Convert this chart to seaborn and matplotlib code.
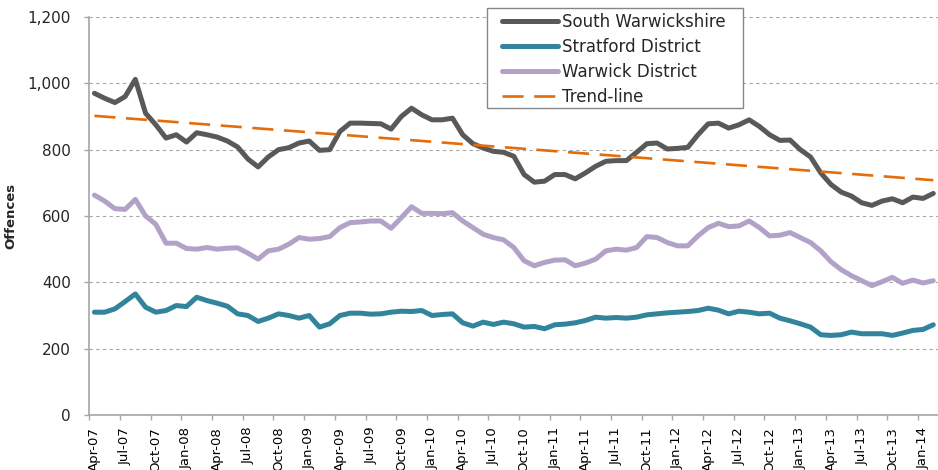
import matplotlib
matplotlib.use('Agg')
import matplotlib.pyplot as plt
import numpy as np
import pandas as pd
import seaborn as sns
from matplotlib.lines import Line2D
from matplotlib.patches import Rectangle
from matplotlib.ticker import FuncFormatter

# Monthly offences, Apr-07 .. Feb-14
months = pd.date_range('2007-04-01', '2014-02-01', freq='MS').strftime('%b-%y').tolist()

south_warwickshire = [970, 955, 942, 960, 1012, 910, 875, 835, 845, 823,
                      851, 845, 838, 826, 808, 772, 748, 778, 800, 806,
                      820, 826, 798, 800, 855, 880, 880, 879, 878, 862,
                      900, 925, 905, 890, 890, 895, 845, 818, 805, 795,
                      792, 780, 725, 702, 705, 725, 725, 712, 730, 750,
                      765, 767, 767, 792, 818, 820, 802, 804, 807, 845,
                      878, 880, 865, 875, 890, 870, 845, 828, 829, 800,
                      778, 730, 695, 672, 660, 640, 632, 645, 652, 640,
                      657, 653, 668]
stratford = [310, 310, 320, 342, 365, 325, 310, 315, 330, 327,
             355, 345, 337, 328, 305, 300, 282, 292, 305, 300,
             292, 300, 265, 275, 300, 307, 307, 304, 305, 310,
             313, 312, 315, 300, 303, 305, 278, 268, 280, 273,
             280, 275, 265, 267, 260, 272, 274, 278, 285, 295,
             292, 294, 292, 295, 302, 305, 308, 310, 312, 315,
             322, 316, 305, 313, 310, 305, 307, 292, 284, 275,
             265, 242, 240, 242, 250, 245, 245, 245, 240, 247,
             255, 258, 272]
warwick = [663, 645, 622, 620, 650, 600, 575, 518, 518, 502,
           500, 505, 500, 503, 504, 488, 470, 495, 500, 515,
           535, 530, 532, 538, 565, 580, 582, 585, 585, 563,
           595, 628, 608, 608, 607, 610, 585, 565, 545, 535,
           528, 505, 465, 450, 460, 467, 468, 450, 458, 470,
           495, 500, 497, 505, 538, 535, 520, 510, 510, 540,
           565, 578, 568, 570, 585, 565, 540, 542, 550, 535,
           520, 495, 462, 438, 420, 405, 390, 402, 415, 397,
           407, 398, 405]

trend_months = ['Apr-07', 'Feb-14']
trend_values = [902, 708]

series_names = ['South Warwickshire', 'Stratford District', 'Warwick District']
colours = ['#595959', '#31849B', '#B3A2C7']
trend_colour = '#E46C0A'


def yaxis_formatter(x, _):
    return '{:,.0f}'.format(x)


sns.set_style('white')
plt.rcParams['font.family'] = ['DejaVu Sans']

df = pd.DataFrame({'Month': months,
                   'South Warwickshire': south_warwickshire,
                   'Stratford District': stratford,
                   'Warwick District': warwick})
df['idx'] = range(len(df))
long = df.melt(id_vars=['Month', 'idx'], var_name='Series', value_name='Offences')

fig = plt.figure(figsize=(9.38, 4.70), dpi=100)
ax = fig.add_axes([89.3 / 938, 1 - 415 / 470, (938.4 - 89.3) / 938, 398 / 470])

sns.lineplot(data=long, x='idx', y='Offences', hue='Series', hue_order=series_names,
             palette=colours, linewidth=3.6, legend=False, ax=ax,
             solid_capstyle='round', solid_joinstyle='round')

trend_x = [months.index(m) for m in trend_months]
ax.plot(trend_x, trend_values, color=trend_colour, linewidth=1.9, dashes=(8, 4))

# Axes
ax.set_xlim(-0.5, len(months) - 0.5)
ax.set_ylim(0, 1200)
ax.set_yticks(range(0, 1201, 200))
ax.yaxis.set_major_formatter(FuncFormatter(yaxis_formatter))
ax.set_xticks(range(0, len(months), 3))
ax.set_xticklabels(months[::3], rotation=90)
ax.set_xticks(np.arange(-0.5, len(months), 3), minor=True)
ax.tick_params(axis='x', which='major', length=0, pad=8.5, labelsize=9.5, colors='black')
ax.tick_params(axis='x', which='minor', length=3.6, width=1, color='#A6A6A6', direction='out', bottom=True)
ax.tick_params(axis='y', length=3.6, width=1, color='#A6A6A6', direction='out', left=True,
               pad=9.5, labelsize=11, labelcolor='#262626')
ax.set_xlabel('')
ax.set_ylabel('Offences', fontsize=9.5, fontweight='bold')
ax.yaxis.set_label_coords(-0.085, 0.5)

for side in ['top', 'right']:
    ax.spines[side].set_visible(False)
for side in ['left', 'bottom']:
    ax.spines[side].set_color('#A6A6A6')
    ax.spines[side].set_linewidth(1.2)

ax.yaxis.grid(True, linestyle=(0, (3, 3)), color='#A6A6A6', linewidth=0.8)
ax.set_axisbelow(True)

# Legend (frame drawn separately to get the wider side padding)
frame = Rectangle((0.468, 0.771), 0.302, 0.2516, transform=ax.transAxes, clip_on=False,
                  facecolor='white', edgecolor='#868686', linewidth=1.0, zorder=4)
ax.add_patch(frame)
handles = [Line2D([], [], color=c, linewidth=3.6, solid_capstyle='round') for c in colours]
handles.append(Line2D([], [], color=trend_colour, linewidth=1.9, dashes=(8, 4)))
labels = series_names + ['Trend-line']
leg = ax.legend(handles, labels, loc='upper left', bbox_to_anchor=(0.486, 1.011),
                fontsize=12, frameon=False, handlelength=3.36, handletextpad=0.26,
                labelspacing=0.42, borderpad=0, borderaxespad=0)
leg.set_zorder(5)

fig.savefig('out.png', dpi=100)
